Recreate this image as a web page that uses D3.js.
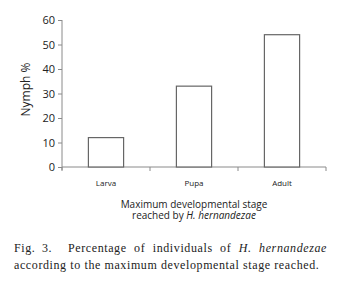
<!DOCTYPE html>
<html>
<head>
<meta charset="utf-8">
<script src="https://cdn.jsdelivr.net/npm/d3@7"></script>
<style>
  body { margin: 0; background: #fff; }
  .sans { font-family: "Open Sans", "Noto Sans", sans-serif; fill: #222; }
  .serif { font-family: "Liberation Serif", "DejaVu Serif", serif; fill: #222; }
</style>
</head>
<body>
<script>
//chart data
var stages = ["Larva", "Pupa", "Adult"];
var nymphPct = [12, 33, 54];
var yTicks = [0, 10, 20, 30, 40, 50, 60];

(function(){

//frame
var width = 350, height = 295;
var mLeft = 62, mRight = 326, mTop = 20, mBottom = 167;

var svg = d3.select("body").append("svg")
    .attr("width", width)
    .attr("height", height);

//scales
var x = d3.scaleBand()
    .domain(stages)
    .range([mLeft, mRight])
    .paddingInner(0.6)
    .paddingOuter(0.3);

var y = d3.scaleLinear()
    .domain([0, 60])
    .range([mBottom, mTop]);

var axisColor = "#8a8a8a";

//y axis
var yAxis = svg.append("g")
    .attr("transform", "translate(" + mLeft + ",0)")
    .call(d3.axisLeft(y).tickValues(yTicks).tickSize(4).tickPadding(3));
yAxis.select(".domain").attr("stroke", axisColor).attr("d", "M0," + mTop + "V" + (mBottom + 3));
yAxis.selectAll(".tick line").attr("stroke", axisColor);
yAxis.selectAll(".tick text")
    .attr("class", "sans")
    .style("font-size", "11px");

//x axis line with ticks at category boundaries
svg.append("line")
    .attr("x1", mLeft).attr("x2", mRight)
    .attr("y1", mBottom).attr("y2", mBottom)
    .attr("stroke", axisColor);

var step = x.step();
var bounds = stages.map(function(d){ return x(d) - step * x.paddingInner() / 2; });
bounds.push(bounds[bounds.length - 1] + step);
svg.selectAll(".xtick")
    .data(bounds)
    .enter()
    .append("line")
    .attr("class", "xtick")
    .attr("x1", function(d){ return d; })
    .attr("x2", function(d){ return d; })
    .attr("y1", mBottom)
    .attr("y2", mBottom + 4)
    .attr("stroke", axisColor);

//category labels
svg.selectAll(".xlab")
    .data(stages)
    .enter()
    .append("text")
    .attr("class", "sans")
    .attr("x", function(d){ return x(d) + x.bandwidth() / 2; })
    .attr("y", mBottom + 19)
    .attr("text-anchor", "middle")
    .style("font-size", "8px")
    .text(function(d){ return d; });

//bars
svg.selectAll(".bar")
    .data(nymphPct)
    .enter()
    .append("rect")
    .attr("class", "bar")
    .attr("x", function(d, i){ return x(stages[i]); })
    .attr("width", x.bandwidth())
    .attr("y", function(d){ return y(d); })
    .attr("height", function(d){ return y(0) - y(d); })
    .attr("fill", "#fff")
    .attr("stroke", "#666")
    .attr("stroke-width", 1.2);

//axis titles
svg.append("text")
    .attr("class", "sans")
    .attr("transform", "translate(30," + ((mTop + mBottom) / 2 - 4) + ") rotate(-90)")
    .attr("text-anchor", "middle")
    .style("font-size", "12px")
    .text("Nymph %");

var cx = (mLeft + mRight) / 2;
svg.append("text")
    .attr("class", "sans")
    .attr("x", cx).attr("y", 208)
    .attr("text-anchor", "middle")
    .style("font-size", "10px")
    .text("Maximum developmental stage");
var xt2 = svg.append("text")
    .attr("class", "sans")
    .attr("x", cx).attr("y", 219)
    .attr("text-anchor", "middle")
    .style("font-size", "10px");
xt2.append("tspan").text("reached by ");
xt2.append("tspan").style("font-style", "italic").text("H. hernandezae");

//caption
svg.append("text")
    .attr("class", "serif")
    .attr("x", 14).attr("y", 252)
    .style("font-size", "12px")
    .style("letter-spacing", "0.6px")
    .style("word-spacing", "3px")
    .text("Fig. 3.");

var cap1 = svg.append("text")
    .attr("class", "serif")
    .attr("x", 68).attr("y", 252)
    .style("font-size", "12px")
    .style("letter-spacing", "0.6px");
cap1.append("tspan").text("Percentage of individuals of ");
cap1.append("tspan").style("font-style", "italic").text("H. hernandezae");

//justify first line by word spacing (5 gaps)
var w = cap1.node().getComputedTextLength();
cap1.style("word-spacing", ((327 - 68 - w) / 5) + "px");

svg.append("text")
    .attr("class", "serif")
    .attr("x", 14).attr("y", 269)
    .style("font-size", "12px")
    .style("letter-spacing", "0.6px")
    .text("according to the maximum developmental stage reached.");
})();
</script>
</body>
</html>
